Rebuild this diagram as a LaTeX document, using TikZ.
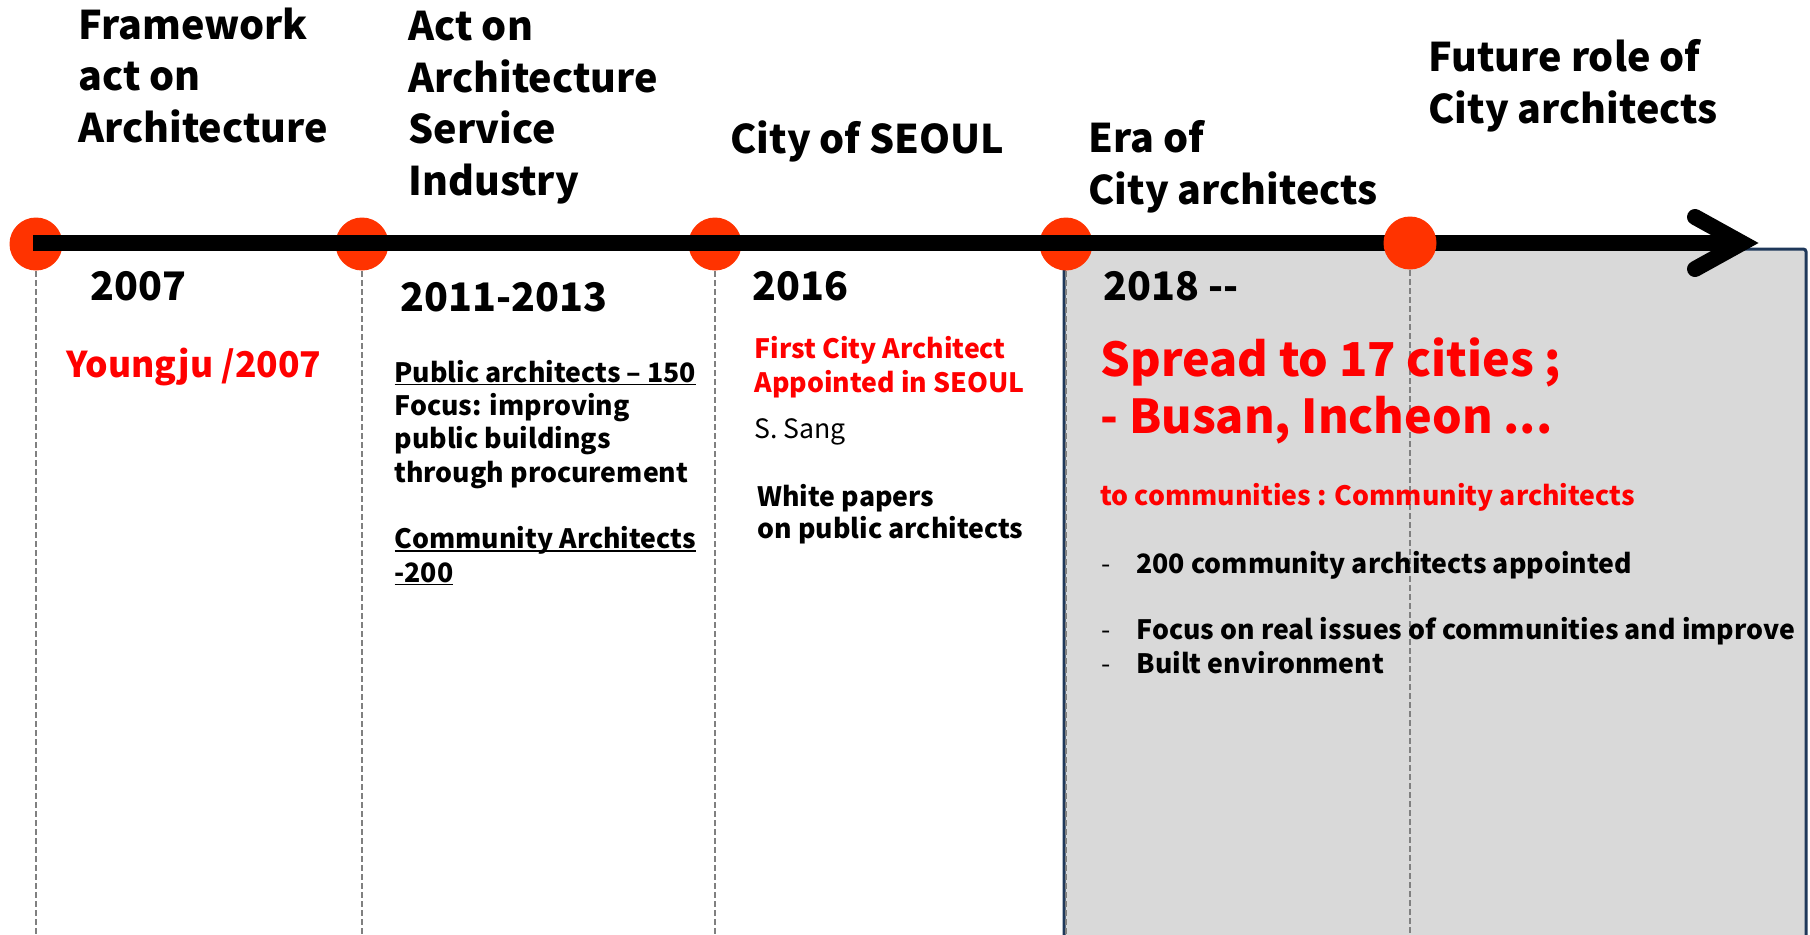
\documentclass[tikz,border=0pt]{standalone}
\usepackage{fontspec}
\setmainfont{Noto Sans CJK KR}
\definecolor{dotred}{RGB}{255,51,0}
\definecolor{txtred}{RGB}{255,0,0}
\definecolor{boxgray}{RGB}{217,217,217}
\definecolor{boxnavy}{RGB}{31,56,90}
\definecolor{guidegray}{RGB}{128,128,128}
\newcommand{\ulined}[1]{\setbox0\hbox{#1}\rlap{\rule[-2.4pt]{\wd0}{1.2pt}}\box0}
\tikzset{every picture/.style={line width=0.75pt}}

\begin{document}
\begin{tikzpicture}[x=0.75pt,y=0.75pt,yscale=-1,xscale=1,
  stage/.style={circle,fill=dotred,inner sep=0pt,minimum size=39.75pt},
  guide/.style={draw=guidegray,line width=1.1pt,dash pattern=on 4.5pt off 2.25pt},
  head/.style={font=\fontsize{29.6}{38.6}\selectfont\bfseries,align=left,inner sep=0pt,anchor=base west},
  year/.style={font=\fontsize{29.5}{38}\selectfont\bfseries,inner sep=0pt,anchor=base west},
  body/.style={font=\fontsize{20}{25}\selectfont\bfseries,align=left,inner sep=0pt,anchor=base west}]
\path[use as bounding box] (0,0) rectangle (1810,935);

%Shape: grey panel for the era of city architects
\draw[boxnavy,fill=boxgray,line width=2.25pt,rounded corners=2pt] (1064,249) rectangle (1806,950);

%Stages on the time line
\node[stage] (d1) at (36,244) {};
\node[stage] (d2) at (362,244) {};
\node[stage] (d3) at (715,244) {};
\node[stage] (d4) at (1066,244) {};
\coordinate (d5pos) at (1410,243);

%Dashed guides
\draw[guide] (d1.south) -- ++(0,665);
\draw[guide] (d2.south) -- ++(0,665);
\draw[guide] (d3.south) -- ++(0,665);
\draw[guide] (d4.south) -- ++(0,665);
\draw[guide] (d5pos) ++(0,27) -- ++(0,670);

%Time line with open head
\coordinate (tstart) at (33,243);
\coordinate (tvert) at (1742,243);
\draw[line width=12pt] (tstart) -- (tvert);
\draw[line width=12pt,line cap=round,line join=miter] (1695,217) -- (tvert) -- (1695,269);
\node[stage] (d5) at (d5pos) {};

% Headings (base = last line)
\node[head] (hFramework) at (78,142) {Framework\\act on\\Architecture};
\node[head] (hService) at (408,195) {Act on\\Architecture\\Service\\Industry};
\node[head] (hSeoul) at (730,153) {City of SEOUL};
\node[head] (hEra) at (1088,204) {Era of\\City architects};
\node[head] (hFuture) at (1428,123) {Future role of\\City architects};

% Years
\node[year] (y2007) at (90,300) {2007};
\node[year] (y2011) at (400,311) {2011-2013};
\node[year] (y2016) at (752,300) {2016};
\node[year] (y2018) at (1103,300) {2018 -{}-};

% Column texts
\node[body,font=\fontsize{26.6}{30}\selectfont\bfseries,text=txtred] (tYoungju) at (66,377) {Youngju /2007};
\node[body] (tPublic) at (394,482) {\ulined{Public architects -- 150}\\Focus: improving\\public buildings\\through procurement};
\node[body] (tComm) at (394,582) {\ulined{Community Architects}\\\ulined{-200}};
\node[body,text=txtred] (tFirst) at (754,392) {First City Architect\\Appointed in SEOUL};
\node[body,font=\fontsize{20}{25}\selectfont] (tSang) at (754,438) {S. Sang};
\node[body,font=\fontsize{20}{23.5}\selectfont\bfseries] (tWhite) at (757,538) {White papers\\on public architects};

% Panel texts
\node[body,font=\fontsize{35}{42.75}\selectfont\bfseries,text=txtred] (tSpread) at (1100,433) {Spread to 17 cities ;\\- Busan, Incheon ...};
\node[body,font=\fontsize{20}{25}\selectfont\bfseries,text=txtred] (tTo) at (1100,505) {to communities : Community architects};
\node[body,font=\fontsize{20}{25.5}\selectfont\bfseries] (tBul1) at (1101,573) {\makebox[26.25pt][l]{\mdseries -}200 community architects appointed};
\node[body,font=\fontsize{20}{25.5}\selectfont\bfseries] (tBul2) at (1101,673) {\makebox[26.25pt][l]{\mdseries -}Focus on real issues of communities and improve\\\makebox[26.25pt][l]{\mdseries -}Built environment};

\end{tikzpicture}
\end{document}
